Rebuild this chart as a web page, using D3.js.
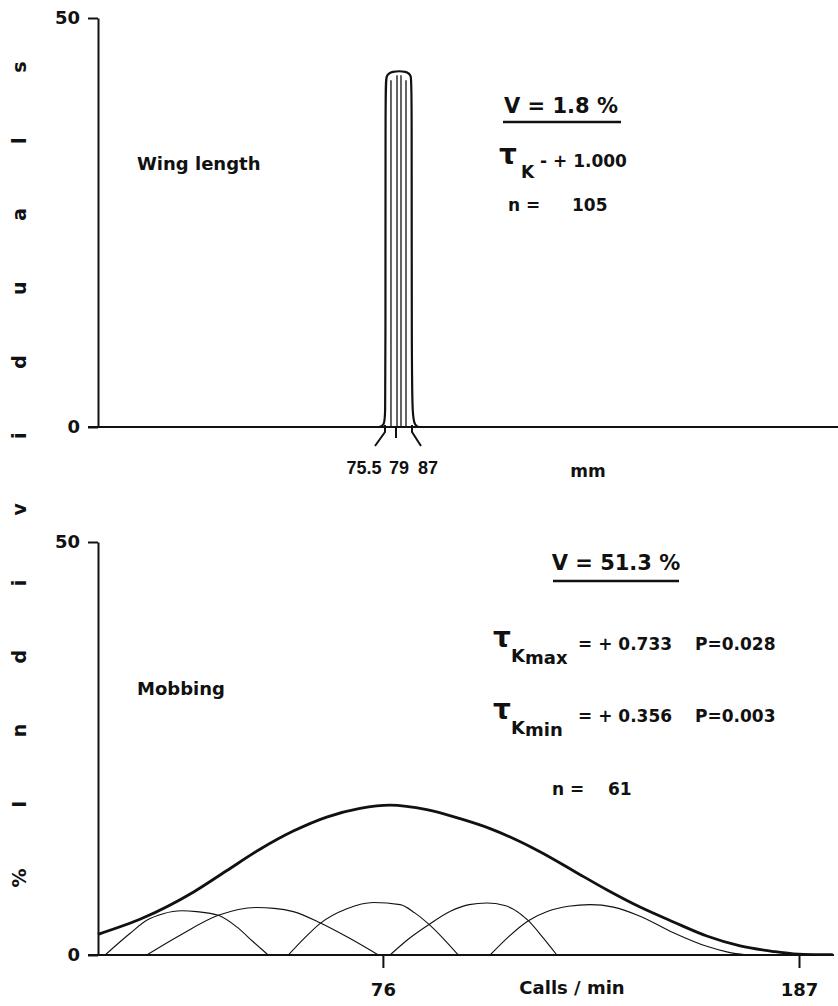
<!DOCTYPE html>
<html>
<head>
<meta charset="utf-8">
<script src="https://cdn.jsdelivr.net/npm/d3@7"></script>
<style>
  body { margin: 0; background: #fff; }
  svg text { font-family: "DejaVu Sans", sans-serif; font-weight: bold; fill: #111; }
  svg text.narrow { font-family: "Liberation Sans", Arial, sans-serif; }
</style>
</head>
<body>
<div id="chart"></div>
<script>
(function(){
    var W = 838, H = 1006;

    // y ticks, % individuals (both panels)
    var yTicks = [0, 50];
    var yLabelLetters = ['%', 'I', 'n', 'd', 'i', 'v', 'i', 'd', 'u', 'a', 'l', 's'];

    // top panel: wing length (mm)
    var wingTicks = [75.5, 79, 87];
    var wingOutlineMm  = [73.6, 75.2, 75.6, 75.65, 75.65, 75.8, 77.5, 84.5, 86.7, 86.85, 86.85, 87.2, 88.5, 90.2];
    var wingOutlinePct = [0, 0.2, 1.2, 8, 41.5, 43.0, 43.5, 43.5, 43.0, 41.5, 8, 1.2, 0.2, 0];
    var wingStripeMm  = [77.4, 79.5, 81.5, 84];
    var wingStripePct = [42.4, 43.0, 43.0, 42.4];

    // bottom panel: mobbing (calls / min)
    var callTicks = [76, 187];
    var totalX = [0, 12.1, 25.4, 34.3, 43.2, 52.1, 61.0, 69.9, 77.9, 87.7, 96.6, 104.6, 117.9, 126.8, 135.7, 144.6, 153.5, 162.4, 171.3, 180.2, 185.5, 191, 196];
    var totalY = [2.5, 4.5, 7.6, 10.2, 12.8, 15.0, 16.7, 17.75, 18.15, 17.6, 16.5, 15.3, 12.5, 10.2, 7.9, 5.8, 4.0, 2.3, 1.1, 0.42, 0.14, 0.05, 0.05];
    var hump1X = [1.9, 8.5, 13.0, 17.4, 22.3, 26.3, 32.1, 37.0, 41.4, 45.4];
    var hump1Y = [0, 2.6, 4.2, 5.0, 5.35, 5.25, 4.8, 3.4, 1.6, 0];
    var hump2X = [13.0, 21.9, 32.1, 42.3, 47, 52.1, 59.2, 66.4, 74.8];
    var hump2Y = [0, 2.4, 4.8, 5.75, 5.65, 5.25, 3.9, 2.2, 0];
    var hump3X = [50.8, 55, 59.2, 66.4, 73.5, 80.6, 84.5, 88.3, 92.3, 96.1];
    var hump3Y = [0, 2.0, 3.8, 5.6, 6.35, 6.1, 5.1, 3.7, 1.9, 0];
    var hump4X = [77.9, 83, 88.3, 94, 99, 103.7, 108.5, 114.8, 118.7, 122.4];
    var hump4Y = [0, 2.0, 3.7, 5.3, 6.1, 6.3, 6.0, 4.15, 2.1, 0];
    var hump5X = [104.6, 109.5, 114.8, 120, 125.5, 131.3, 137.5, 144.6, 153.5, 162.4, 168, 173.1];
    var hump5Y = [0, 2.2, 4.15, 5.3, 5.9, 6.1, 5.8, 4.7, 2.7, 1.05, 0.35, 0];

    function zip(xs, ys) { return xs.map(function(x, i){ return { x: x, y: ys[i] }; }); }

    var svg = d3.select('#chart').append('svg')
        .attr('width', W).attr('height', H);

    // scales
    var yTop = d3.scaleLinear().domain([0, 50]).range([427, 18]);
    var yBot = d3.scaleLinear().domain([0, 50]).range([955, 542]);
    var xWing = d3.scaleLinear().domain([75.5, 79, 87]).range([385, 396, 412]);
    var xCalls = d3.scaleLinear().domain([0, 187]).range([98, 799]);

    function styleAxis(g) {
        g.attr('font-family', null).attr('font-size', null);
        g.selectAll('.domain').attr('stroke', '#111').attr('stroke-width', 2);
        g.selectAll('.tick line').attr('stroke', '#111').attr('stroke-width', 2);
        g.selectAll('.tick text').attr('font-size', 18).attr('fill', '#111');
    }

    // y axes
    [yTop, yBot].forEach(function(y){
        var g = svg.append('g')
            .attr('transform', 'translate(98,0)')
            .call(d3.axisLeft(y).tickValues(yTicks).tickSize(10).tickPadding(8).tickSizeOuter(0));
        styleAxis(g);
    });

    // x axis lines
    svg.append('line').attr('x1', 88).attr('x2', 838)
        .attr('y1', yTop(0)).attr('y2', yTop(0))
        .attr('stroke', '#111').attr('stroke-width', 2);
    svg.append('line').attr('x1', 88).attr('x2', 834)
        .attr('y1', yBot(0)).attr('y2', yBot(0))
        .attr('stroke', '#111').attr('stroke-width', 2);

    // ---- top panel ----
    var lineWing = d3.line()
        .x(function(d){ return xWing(d.x); })
        .y(function(d){ return yTop(d.y); })
        .curve(d3.curveBasis);

    svg.selectAll('.stripe')
        .data(zip(wingStripeMm, wingStripePct))
        .enter().append('line')
        .attr('class', 'stripe')
        .attr('x1', function(d){ return xWing(d.x); })
        .attr('x2', function(d){ return xWing(d.x); })
        .attr('y1', yTop(0))
        .attr('y2', function(d){ return yTop(d.y); })
        .attr('stroke', '#111').attr('stroke-width', 1.3);

    svg.append('path')
        .datum(zip(wingOutlineMm, wingOutlinePct))
        .attr('fill', 'none').attr('stroke', '#111').attr('stroke-width', 2.2)
        .attr('d', lineWing);

    // forked ticks under the spike
    var forkDx = [-10, 0, 9];
    wingTicks.forEach(function(v, i){
        var x0 = xWing(v), y0 = yTop(0);
        var p = i === 1
            ? 'M' + x0 + ',' + y0 + 'V' + (y0 + 11)
            : 'M' + x0 + ',' + (y0 - 2) + 'V' + (y0 + 5) + 'L' + (x0 + forkDx[i]) + ',' + (y0 + 19);
        svg.append('path').attr('d', p).attr('fill', 'none')
            .attr('stroke', '#111').attr('stroke-width', 2);
    });
    var labelDx = [-21, 3, 16];
    wingTicks.forEach(function(v, i){
        svg.append('text').attr('class', 'narrow')
            .attr('x', xWing(v) + labelDx[i]).attr('y', 474)
            .attr('text-anchor', 'middle').attr('font-size', 18)
            .text(String(v));
    });
    svg.append('text').attr('x', 588).attr('y', 477)
        .attr('text-anchor', 'middle').attr('font-size', 17).text('mm');

    svg.append('text').attr('x', 137).attr('y', 170).attr('font-size', 18).text('Wing length');

    svg.append('text').attr('x', 561).attr('y', 113)
        .attr('text-anchor', 'middle').attr('font-size', 21).text('V = 1.8 %');
    svg.append('line').attr('x1', 503).attr('x2', 621).attr('y1', 122).attr('y2', 122)
        .attr('stroke', '#111').attr('stroke-width', 2.5);

    svg.append('text').attr('x', 499).attr('y', 164).attr('font-size', 28).text('τ');
    svg.append('text').attr('x', 521).attr('y', 178).attr('font-size', 17).text('K');
    svg.append('text').attr('x', 540).attr('y', 167).attr('font-size', 17).text('- + 1.000');
    svg.append('text').attr('x', 508).attr('y', 211).attr('font-size', 17).text('n  =');
    svg.append('text').attr('x', 572).attr('y', 211).attr('font-size', 17).text('105');

    // ---- bottom panel ----
    var xAxisG = svg.append('g')
        .attr('transform', 'translate(0,' + yBot(0) + ')')
        .call(d3.axisBottom(xCalls).tickValues(callTicks).tickSize(13).tickPadding(15).tickSizeOuter(0));
    xAxisG.select('.domain').remove();
    styleAxis(xAxisG);
    svg.append('text').attr('x', 572).attr('y', 994)
        .attr('text-anchor', 'middle').attr('font-size', 18).text('Calls / min');

    var lineCalls = d3.line()
        .x(function(d){ return xCalls(d.x); })
        .y(function(d){ return yBot(d.y); })
        .curve(d3.curveMonotoneX);

    [[hump1X, hump1Y], [hump2X, hump2Y], [hump3X, hump3Y], [hump4X, hump4Y], [hump5X, hump5Y]]
        .forEach(function(h){
            svg.append('path')
                .datum(zip(h[0], h[1]))
                .attr('fill', 'none').attr('stroke', '#111').attr('stroke-width', 1.1)
                .attr('d', lineCalls);
        });

    svg.append('path')
        .datum(zip(totalX, totalY))
        .attr('fill', 'none').attr('stroke', '#111').attr('stroke-width', 2.8)
        .attr('d', lineCalls);

    svg.append('text').attr('x', 137).attr('y', 695).attr('font-size', 18).text('Mobbing');

    svg.append('text').attr('x', 616).attr('y', 570)
        .attr('text-anchor', 'middle').attr('font-size', 21).text('V = 51.3 %');
    svg.append('line').attr('x1', 553).attr('x2', 679).attr('y1', 581).attr('y2', 581)
        .attr('stroke', '#111').attr('stroke-width', 2.5);

    var tauRows = [
        { sub: 'max', val: '= + 0.733', p: 'P=0.028', base: 650 },
        { sub: 'min', val: '= + 0.356', p: 'P=0.003', base: 722 }
    ];
    tauRows.forEach(function(r){
        svg.append('text').attr('x', 493).attr('y', r.base - 3).attr('font-size', 28).text('τ');
        svg.append('text').attr('x', 511).attr('y', r.base + 12).attr('font-size', 18).text('K');
        svg.append('text').attr('x', 525).attr('y', r.base + 14).attr('font-size', 18).text(r.sub);
        svg.append('text').attr('x', 578).attr('y', r.base).attr('font-size', 17).text(r.val);
        svg.append('text').attr('x', 695).attr('y', r.base).attr('font-size', 17).text(r.p);
    });
    svg.append('text').attr('x', 552).attr('y', 795).attr('font-size', 17).text('n  =');
    svg.append('text').attr('x', 608).attr('y', 795).attr('font-size', 17).text('61');

    // rotated y label, one letter per slot, evenly spread along the left edge
    var yLab = d3.scalePoint().domain(d3.range(yLabelLetters.length)).range([878, 67]);
    svg.selectAll('.ylab')
        .data(yLabelLetters)
        .enter().append('text')
        .attr('class', 'ylab')
        .attr('transform', function(d, i){ return 'translate(26,' + yLab(i) + ') rotate(-90)'; })
        .attr('text-anchor', 'middle')
        .attr('font-size', 19)
        .text(function(d){ return d; });
})();
</script>
</body>
</html>
